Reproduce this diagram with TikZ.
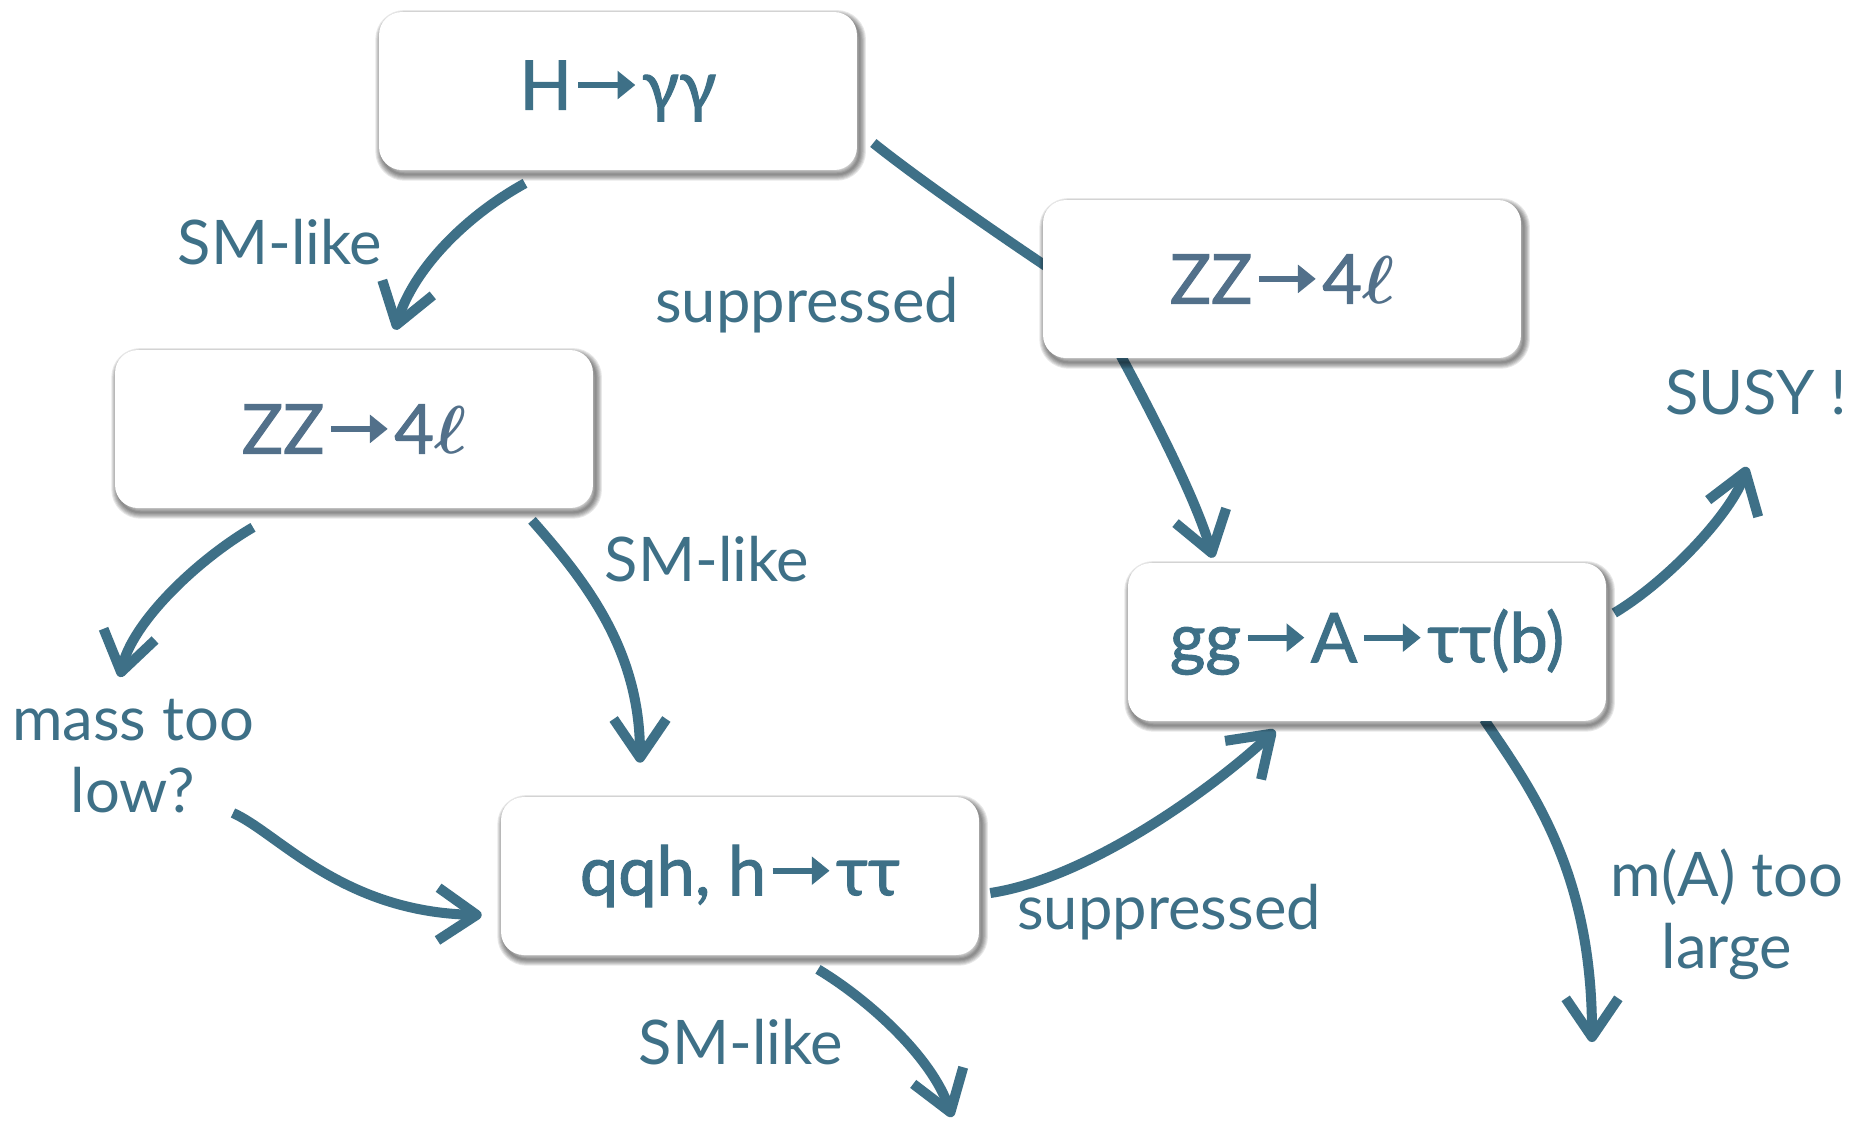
\documentclass[tikz,border=0pt]{standalone}
\usepackage{fontspec}
\usepackage{bm}
\usepackage{graphicx}
\setmainfont{Lato}
\newfontfamily\boxfont[FakeBold=1.5]{Lato}
\usetikzlibrary{arrows.meta,calc}
\definecolor{tealc}{RGB}{62,112,135}
\definecolor{zzc}{RGB}{82,112,138}
\pgfdeclarelayer{background}
\pgfsetlayers{background,main}
\newcommand\rarr[1][tealc]{\hspace{0.05em}\tikz[baseline=0pt]\draw[draw=#1,fill=#1,line width=0.09em,-{Triangle[length=0.26em,width=0.4em]}] (0pt,0.36em) -- (0.83em,0.36em);\hspace{0.05em}}
\newcommand\ellsym{\scalebox{1.55}{$\bm{\ell}$}}
\begin{document}
\begin{tikzpicture}[x=0.02cm,y=-0.02cm,
  shd/.style={preaction={draw=black, draw opacity=0.09, line width=#1, transform canvas={shift={(1.5pt,-2.5pt)}}}},
  box/.style={rounded corners=13pt, fill=white, minimum width=9.56cm, minimum height=3.16cm, inner sep=0pt, text=tealc, font=\boxfont\fontsize{39}{44}\selectfont, shd=1.2pt, shd=2.4pt, shd=3.6pt, shd=4.8pt, shd=6pt, shd=7.2pt},
  lab/.style={text=tealc, font=\fontsize{35}{41}\selectfont, inner sep=0pt, align=center},
  connplain/.style={draw=tealc, line width=5.7pt},
  conn/.style={connplain, -{Straight Barb[length=22pt,width=30pt,line join=round,line cap=butt]}}
]
\begin{pgfonlayer}{background}
\fill[white] (0,0) rectangle (1873,1120);
\end{pgfonlayer}
\useasboundingbox (0,0) rectangle (1873,1120);

\node[box] (hgg) at (618,91) {H\rarr γγ};
\node[box, text=zzc] (zza) at (354,429) {ZZ\rarr[zzc]4\ellsym};
\node[box, text=zzc] (zzb) at (1282,279) {ZZ\rarr[zzc]4\ellsym};
\node[box] (gga) at (1367,642) {gg\rarr A\rarr ττ(b)};
\node[box] (qqh) at (740,876) {qqh, h\rarr ττ};

\node[lab, anchor=base] (sm1) at (280,264) {SM-like};
\node[lab, anchor=base] (sup1) at (807,322) {suppressed};
\node[lab, anchor=base] (sm2) at (707,581) {SM-like};
\node[lab] (mass) at (133,756) {mass too\\low?};
\node[lab, anchor=base] (susy) at (1756,414) {SUSY !};
\node[lab, anchor=base] (sup2) at (1169,929) {suppressed};
\node[lab] (mA) at (1727,914) {m(A) too\\large};
\node[lab, anchor=base] (sm3) at (741,1064) {SM-like};

\coordinate (masstip) at (120,677);
\coordinate (lowstart) at (233,813);
\coordinate (susytip) at (1747,467);
\coordinate (mAtip) at (1592,1042);
\coordinate (sm3tip) at (952,1117);

\begin{pgfonlayer}{background}
\draw[conn] ([shift={(-93,13)}]hgg.south) .. controls +(-60,33) and +(18,-60) .. ([shift={(41,-20)}]zza.north);
\draw[connplain] ([shift={(16,52)}]hgg.east) .. controls +(50,40) and +(-45,-30) .. ([shift={(15,-5)}]zzb.west);
\draw[conn] ([shift={(-163,-6)}]zzb.south) .. controls +(28,52) and +(-18,-62) .. ([shift={(-154,-5)}]gga.north);
\draw[conn] ([shift={(-101,19)}]zza.south) .. controls +(-55,32) and +(12,-55) .. (masstip);
\draw[conn] ([shift={(178,12)}]zza.south) .. controls +(53,60) and +(0,-113) .. ([shift={(-100,-34)}]qqh.north);
\draw[conn] (lowstart) .. controls +(45,20) and +(-140,-3) .. ([shift={(-19,39)}]qqh.west);
\draw[conn] ([shift={(11,17)}]qqh.east) .. controls +(100,-15) and +(-60,56) .. ([shift={(-92,9)}]gga.south);
\draw[conn] ([shift={(8,-29)}]gga.east) .. controls +(55,-33) and +(-15,45) .. (susytip);
\draw[conn] ([shift={(117,-2)}]gga.south) .. controls +(46,68) and +(0,-172) .. (mAtip);
\draw[conn] ([shift={(78,14)}]qqh.south) .. controls +(50,30) and +(-20,-60) .. (sm3tip);
\end{pgfonlayer}
\end{tikzpicture}
\end{document}
